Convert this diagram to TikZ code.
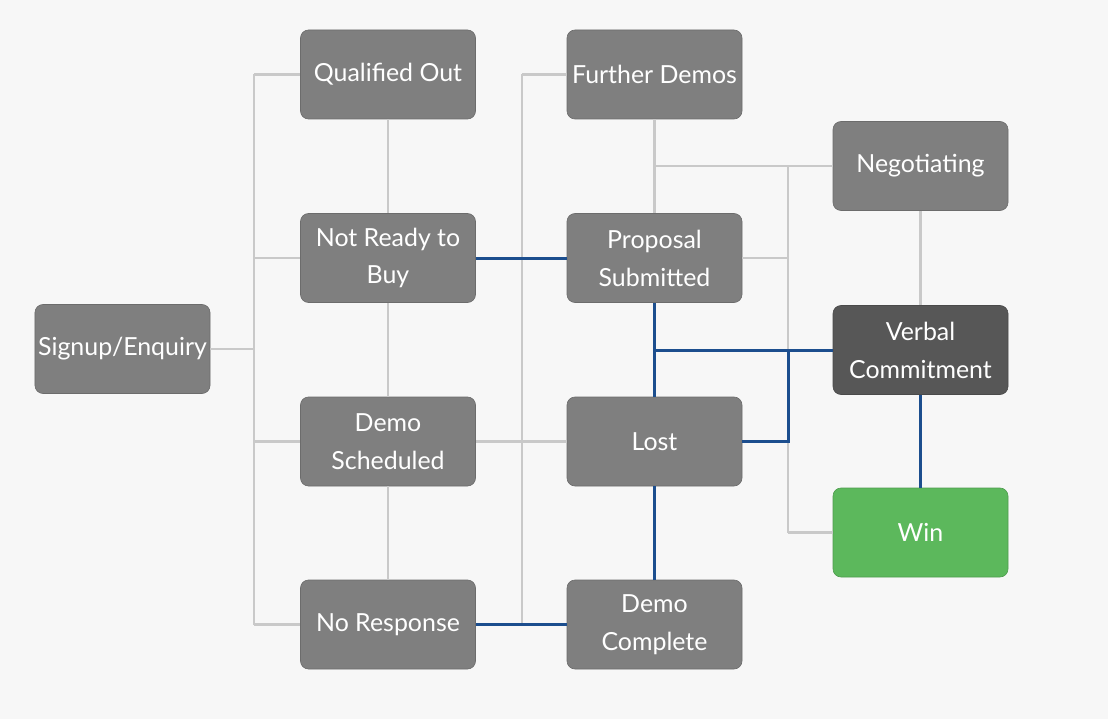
\documentclass[tikz,border=0pt]{standalone}
\usepackage{fontspec}
\setmainfont{Lato}
\definecolor{bg}{HTML}{F7F7F7}
\definecolor{boxgray}{HTML}{7F7F7F}
\definecolor{boxdark}{HTML}{575757}
\definecolor{wingreen}{HTML}{5CB85C}
\definecolor{lgray}{HTML}{C9C9C9}
\definecolor{lblue}{HTML}{1C4E8E}
\tikzset{
  stage/.style={rectangle, rounded corners=8bp, fill=boxgray, draw=boxgray!85!black, line width=0.6bp,
    text=white, align=center, minimum width=175bp, minimum height=89bp, inner sep=0pt,
    font=\fontsize{25}{38}\selectfont},
  glink/.style={draw=lgray, line width=2.6bp},
  blink/.style={draw=lblue, line width=3bp}
}
\begin{document}
\begin{tikzpicture}[x=1bp,y=-1bp]
\fill[bg] (0,0) rectangle (1108,719);
\useasboundingbox (0,0) rectangle (1108,719);
% junction coordinates
\coordinate (La) at (254,74.5);
\coordinate (Lb) at (254,624.5);
\coordinate (Ma) at (522,74.5);
\coordinate (Mb) at (522,624.5);
\coordinate (Ra) at (788,166);
\coordinate (Rb) at (788,532.5);
% gray links (drawn before nodes)
\draw[glink] (La) -- (Lb);
\draw[glink] (Ma) -- (Mb);
\draw[glink] (Ra) -- (Rb);
% nodes
\node[stage] (sig) at (122.5,349) {Signup/Enquiry};
\node[stage] (qo) at (388,74.5) {Qualified Out};
\node[stage] (nr) at (388,258) {Not Ready to\\Buy};
\node[stage] (ds) at (388,441.5) {Demo\\Scheduled};
\node[stage] (nresp) at (388,624.5) {No Response};
\node[stage] (fd) at (654.5,74.5) {Further Demos};
\node[stage] (ps) at (654.5,258) {Proposal\\Submitted};
\node[stage] (lost) at (654.5,441.5) {Lost};
\node[stage] (dc) at (654.5,624.5) {Demo\\Complete};
\node[stage] (neg) at (920.5,166) {Negotiating};
\node[stage, fill=boxdark, draw=boxdark!85!black] (vc) at (920.5,350) {Verbal\\Commitment};
\node[stage, fill=wingreen, draw=wingreen!85!black] (win) at (920.5,532.5) {Win};
% gray connectors
\draw[glink] (sig.east) -- (sig.east -| La);
\draw[glink] (La) -- (qo.west);
\draw[glink] (nr.west -| La) -- (nr.west);
\draw[glink] (ds.west -| La) -- (ds.west);
\draw[glink] (Lb) -- (nresp.west);
\draw[glink] (qo) -- (nr);
\draw[glink] (nr) -- (ds);
\draw[glink] (ds) -- (nresp);
\draw[glink] (Ma) -- (fd.west);
\draw[glink] (ds) -- (lost);
\draw[glink] (fd) -- (ps);
\draw[glink] (fd.south |- neg.west) -- (neg.west);
\draw[glink] (Rb) -- (win.west);
\draw[glink] (ps.east) -- (ps.east -| Ra);
\draw[glink] (neg) -- (vc);
% blue connectors
\draw[blink] (nr) -- (ps);
\draw[blink] (nresp) -- (dc);
\draw[blink] (ps) -- (lost);
\draw[blink] (lost) -- (dc);
\draw[blink] (vc) -- (win);
\draw[blink] (vc.west) -- (vc.west -| ps.south);
\draw[blink] (lost.east) -- (lost.east -| Ra) -- (Ra |- vc.west);
\end{tikzpicture}
\end{document}
